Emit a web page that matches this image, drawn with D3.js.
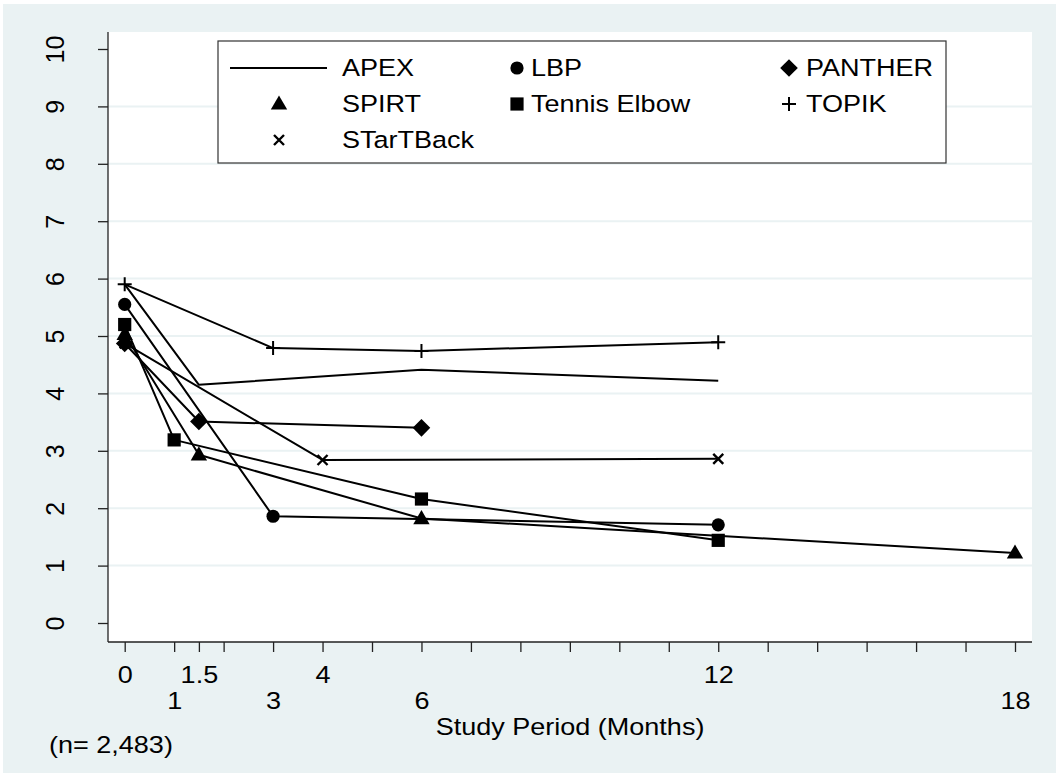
<!DOCTYPE html>
<html><head><meta charset="utf-8">
<script src="https://cdn.jsdelivr.net/npm/d3@7"></script>
<style>
body{margin:0;background:#fff;}
svg text{font-family:"Liberation Sans", Arial, Helvetica, sans-serif; fill:#000;}
</style>
</head><body>
<svg id="chart" width="1056" height="773"></svg>
<script>
// ---------- DATA ----------
const seriesNames   = ["APEX","LBP","PANTHER","SPIRT","Tennis Elbow","TOPIK","STarTBack"];
const seriesSymbols = ["line","circle","diamond","triangle","square","plus","cross"];

const apexMonths    = [0, 1.5, 6, 12];
const apexScores    = [5.9, 4.15, 4.41, 4.22];
const lbpMonths     = [0, 3, 12];
const lbpScores     = [5.55, 1.86, 1.71];
const pantherMonths = [0, 1.5, 6];
const pantherScores = [4.87, 3.51, 3.40];
const spirtMonths   = [0, 1.5, 6, 18];
const spirtScores   = [5.03, 2.93, 1.82, 1.22];
const tennisMonths  = [0, 1, 6, 12];
const tennisScores  = [5.2, 3.19, 2.16, 1.44];
const topikMonths   = [0, 3, 6, 12];
const topikScores   = [5.9, 4.79, 4.74, 4.89];
const startMonths   = [0, 4, 12];
const startScores   = [4.87, 2.84, 2.86];

const yTickValues = [0,1,2,3,4,5,6,7,8,9,10];
const yGridValues = [1,2,3,4,5,6,7,8,9];
const xTickValues = [0,1,1.5,2,3,4,5,6,7,8,9,10,11,12,13,14,15,16,17,18];
const xTickLabels = [0,1,1.5,3,4,6,12,18];
const xTitle = "Study Period (Months)";
const noteText = "(n= 2,483)";

const seriesMonths = [apexMonths, lbpMonths, pantherMonths, spirtMonths, tennisMonths, topikMonths, startMonths];
const seriesScores = [apexScores, lbpScores, pantherScores, spirtScores, tennisScores, topikScores, startScores];

// ---------- LAYOUT ----------
const W = 1056, H = 773;
const plot = {left:108, right:1032, top:32, bottom:642};
const BG = "#EAF2F3";
const SX = 1.15;   // horizontal stretch of horizontal text
const FS = 23.5;

const svg = d3.select("#chart");
svg.append("rect").attr("x",3).attr("y",4).attr("width",W-3).attr("height",H-4).attr("fill",BG);
svg.append("rect").attr("x",plot.left).attr("y",plot.top)
   .attr("width",plot.right-plot.left).attr("height",plot.bottom-plot.top).attr("fill","#fff");

const x = d3.scaleLinear().domain([0,18]).range([124.7,1015]);
const y = d3.scaleLinear().domain([0,10]).range([623,49]);

// gridlines
svg.append("g").selectAll("line").data(yGridValues).join("line")
  .attr("x1",plot.left).attr("x2",plot.right)
  .attr("y1",d=>y(d)).attr("y2",d=>y(d))
  .attr("stroke",BG).attr("stroke-width",2);

// axes lines
svg.append("line").attr("x1",plot.left).attr("x2",plot.left).attr("y1",plot.top).attr("y2",plot.bottom)
  .attr("stroke","#222").attr("stroke-width",1.3);
svg.append("line").attr("x1",plot.left).attr("x2",plot.right).attr("y1",plot.bottom).attr("y2",plot.bottom)
  .attr("stroke","#222").attr("stroke-width",1.3);

// Y axis
const gy = svg.append("g").attr("transform",`translate(${plot.left},0)`)
  .call(d3.axisLeft(y).tickValues(yTickValues).tickSize(10).tickSizeOuter(0).tickFormat(d=>String(d)));
gy.select(".domain").remove();
gy.attr("font-size",25).attr("font-family",null);
gy.selectAll(".tick line").attr("stroke","#222").attr("stroke-width",1.3);
gy.selectAll(".tick text").attr("x",0).attr("y",0).attr("dy",null)
  .attr("text-anchor","middle").attr("fill","#000")
  .attr("transform",`translate(${63.5-plot.left},0) rotate(-90)`);

// X axis
const gx = svg.append("g").attr("transform",`translate(0,${plot.bottom})`)
  .call(d3.axisBottom(x).tickValues(xTickValues).tickSize(10).tickSizeOuter(0)
        .tickFormat(d => xTickLabels.includes(d) ? String(d) : ""));
gx.select(".domain").remove();
gx.attr("font-size",FS).attr("font-family",null);
gx.selectAll(".tick line").attr("stroke","#222").attr("stroke-width",1.3);
gx.selectAll(".tick text").each(function(d){
  const i = xTickLabels.indexOf(d);
  const base = (i % 2 === 0) ? 683 : 709;
  d3.select(this).attr("x",0).attr("y",0).attr("dy",null).attr("fill","#000")
    .attr("text-anchor","middle")
    .attr("transform",`translate(0,${base-plot.bottom}) scale(${SX},1)`);
});

// titles
function stretchedText(txt, tx, ty, anchor){
  return svg.append("text").text(txt).attr("font-size",FS).attr("text-anchor",anchor)
    .attr("transform",`translate(${tx},${ty}) scale(${SX},1)`);
}
stretchedText(xTitle, (plot.left+plot.right)/2, 735, "middle");
stretchedText(noteText, 49, 753, "start");

// symbols
function drawSymbol(g, type, cx, cy){
  const s = g.append("path").attr("transform",`translate(${cx},${cy})`);
  if (type==="circle") s.attr("d", d3.symbol(d3.symbolCircle, Math.PI*6.6*6.6)()).attr("fill","#000");
  else if (type==="square") s.attr("d","M-6.6,-6.6H6.6V6.6H-6.6Z").attr("fill","#000");
  else if (type==="diamond") s.attr("d","M0,-8.8L8.8,0L0,8.8L-8.8,0Z").attr("fill","#000");
  else if (type==="triangle") s.attr("d","M0,-8.5L8.2,5.6L-8.2,5.6Z").attr("fill","#000");
  else if (type==="plus") s.attr("d","M-7,0H7M0,-7V7").attr("stroke","#000").attr("stroke-width",2).attr("fill","none");
  else if (type==="cross") s.attr("d","M-5,-5L5,5M-5,5L5,-5").attr("stroke","#000").attr("stroke-width",2.4).attr("fill","none");
}

// series
const line = d3.line().x(d=>x(d[0])).y(d=>y(d[1]));
const gs = svg.append("g");
seriesNames.forEach((name,k)=>{
  const pts = seriesMonths[k].map((m,i)=>[m, seriesScores[k][i]]);
  gs.append("path").datum(pts).attr("d",line).attr("fill","none")
    .attr("stroke","#000").attr("stroke-width",2).attr("stroke-linejoin","round");
});
seriesNames.forEach((name,k)=>{
  if (seriesSymbols[k]==="line") return;
  seriesMonths[k].forEach((m,i)=> drawSymbol(gs, seriesSymbols[k], x(m), y(seriesScores[k][i])));
});

// legend
const lg = svg.append("g");
lg.append("rect").attr("x",218).attr("y",41).attr("width",728).attr("height",122)
  .attr("fill","#fff").attr("stroke","#333").attr("stroke-width",1.2);
const colSym = [279, 517, 789];
const colTxt = [342, 531, 806];
const rowBase = [76, 112, 148];
seriesNames.forEach((name,k)=>{
  const c = k % 3, r = Math.floor(k/3);
  const cy = rowBase[r]-8;
  if (seriesSymbols[k]==="line") {
    lg.append("line").attr("x1",230).attr("x2",327).attr("y1",cy).attr("y2",cy)
      .attr("stroke","#000").attr("stroke-width",2);
  } else {
    drawSymbol(lg, seriesSymbols[k], colSym[c], cy);
  }
  lg.append("text").text(name).attr("font-size",FS).attr("text-anchor","start")
    .attr("transform",`translate(${colTxt[c]},${rowBase[r]}) scale(${SX},1)`);
});
</script>
</body></html>
